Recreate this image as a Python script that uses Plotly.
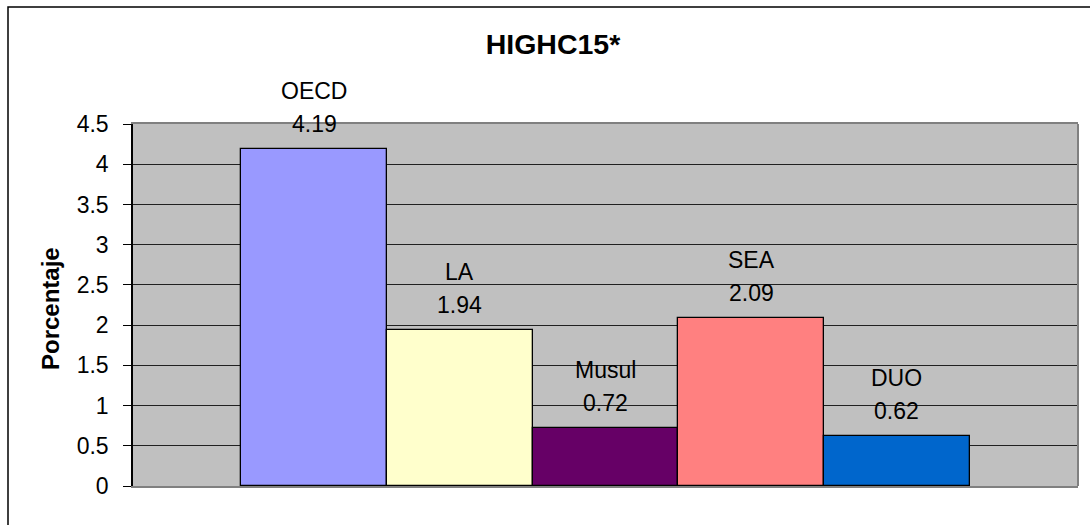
import plotly.graph_objects as go

categories = ["OECD", "LA", "Musul", "SEA", "DUO"]
values = [4.19, 1.94, 0.72, 2.09, 0.62]
value_labels = ["4.19", "1.94", "0.72", "2.09", "0.62"]
colors = ["#9999FF", "#FFFFCC", "#660066", "#FF8080", "#0066CC"]
y_ticks = [0, 0.5, 1, 1.5, 2, 2.5, 3, 3.5, 4, 4.5]
y_tick_text = ["0", "0.5", "1", "1.5", "2", "2.5", "3", "3.5", "4", "4.5"]

FONT = "Liberation Sans, Arial, sans-serif"
W, H = 1090, 525
L, R, T, B = 133, 12, 124, 39

xs = list(range(len(categories)))

fig = go.Figure()
fig.add_trace(go.Bar(
    x=xs, y=values, width=1,
    marker=dict(color=colors, line=dict(color="black", width=1.3)),
    hoverinfo="skip", showlegend=False,
))

annotations = []
for i, (c, v, t) in enumerate(zip(categories, values, value_labels)):
    annotations.append(dict(x=i, y=v, xref="x", yref="y", text=t, showarrow=False,
                            yshift=25, yanchor="middle", xanchor="center",
                            font=dict(family=FONT, size=23, color="black")))
    annotations.append(dict(x=i, y=v, xref="x", yref="y", text=c, showarrow=False,
                            yshift=58, yanchor="middle", xanchor="center",
                            font=dict(family=FONT, size=23, color="black")))

pw = W - L - R
ph = H - T - B
annotations.append(dict(xref="paper", yref="paper", x=(50 - L) / pw, y=(H - B - 309) / ph,
                        text="<b>Porcentaje</b>", textangle=-90, showarrow=False,
                        xanchor="center", yanchor="middle",
                        font=dict(family=FONT, size=24, color="black")))

shapes = [
    dict(type="line", xref="paper", yref="paper", x0=1, x1=1, y0=0, y1=1,
         line=dict(color="#808080", width=2), layer="above"),
    dict(type="rect", xref="paper", yref="paper",
         x0=(8 - L) / pw, x1=(1110 - L) / pw,
         y0=(H - B - 545) / ph, y1=(H - B - 7) / ph,
         line=dict(color="black", width=1.5), layer="above"),
]

fig.update_layout(
    width=W, height=H,
    margin=dict(l=L, r=R, t=T, b=B, pad=0),
    paper_bgcolor="white",
    plot_bgcolor="#C0C0C0",
    bargap=0,
    title=dict(text="<b>HIGHC15*</b>", x=553 / W, xref="container", xanchor="center",
               y=1 - 44 / H, yref="container", yanchor="middle",
               font=dict(family=FONT, size=28.5, color="black")),
    xaxis=dict(range=[-1.242, 5.242], showticklabels=False, ticks="", showgrid=False,
               zeroline=False, showline=True, linecolor="#808080", linewidth=2, mirror=True,
               fixedrange=True),
    yaxis=dict(range=[0, 4.5], tickvals=y_ticks, ticktext=y_tick_text,
               showgrid=True, gridcolor="#202020", gridwidth=1, zeroline=False,
               showline=True, linecolor="black", linewidth=1.5,
               ticks="outside", ticklen=8, tickcolor="black", tickwidth=1,
               ticklabelstandoff=10,
               tickfont=dict(family=FONT, size=23, color="black"), fixedrange=True),
    annotations=annotations,
    shapes=shapes,
    font=dict(family=FONT, color="black"),
)

fig.write_html("out.html")
